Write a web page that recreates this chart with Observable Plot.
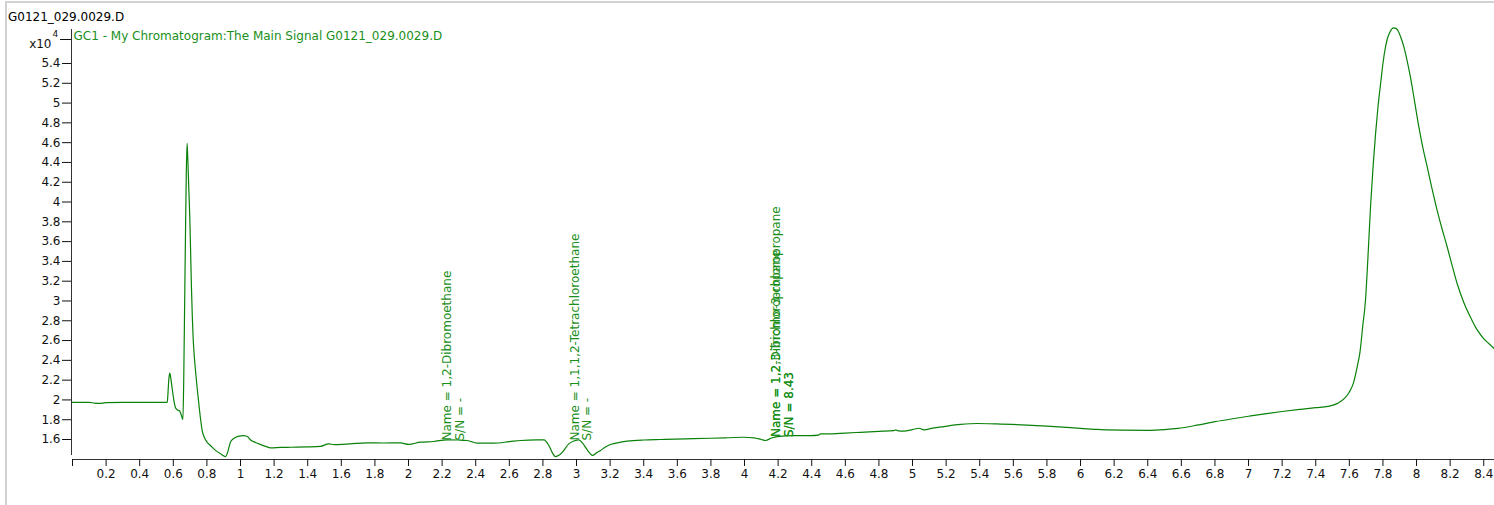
<!DOCTYPE html>
<html><head><meta charset="utf-8">
<script src="https://cdn.jsdelivr.net/npm/d3@7"></script>
<script src="https://cdn.jsdelivr.net/npm/@observablehq/plot@0.6"></script>
<style>
html,body{margin:0;padding:0;background:#fff;}
#wrap{position:relative;width:1494px;height:505px;overflow:hidden;font-family:"DejaVu Sans",sans-serif;}
#frame{position:absolute;left:5px;top:1px;width:1600px;height:600px;border-left:2px solid #d2d2d2;border-top:2px solid #d2d2d2;}
#title{position:absolute;left:8px;top:10px;font-size:12px;line-height:14px;color:#000;white-space:nowrap;}
#chart{position:absolute;left:0;top:0;}
</style></head><body>
<div id="wrap"><div id="frame"></div><div id="title">G0121_029.0029.D</div><div id="chart"></div></div>
<script>
// retention time (min)
const times = [0.00,0.10,0.13,0.16,0.20,0.30,0.45,0.564,0.568,0.573,0.579,0.585,0.593,0.603,0.613,0.623,0.637,0.647,0.657,0.662,0.667,0.672,0.677,0.682,0.686,0.692,0.698,0.703,0.708,0.713,0.718,0.725,0.732,0.742,0.752,0.762,0.772,0.785,0.800,0.821,0.851,0.881,0.911,0.925,0.940,0.960,0.985,1.020,1.045,1.060,1.090,1.119,1.150,1.179,1.238,1.30,1.40,1.476,1.524,1.56,1.65,1.754,1.85,1.952,2.00,2.071,2.149,2.23,2.30,2.35,2.409,2.508,2.60,2.667,2.760,2.806,2.835,2.855,2.875,2.895,2.915,2.954,2.985,3.014,3.035,3.054,3.075,3.096,3.115,3.143,3.172,3.202,3.262,3.302,3.40,3.50,3.65,3.798,3.90,3.996,4.056,4.10,4.125,4.160,4.195,4.294,4.393,4.44,4.452,4.49,4.60,4.69,4.80,4.889,4.90,4.91,4.948,5.00,5.038,5.068,5.12,5.187,5.286,5.385,5.50,5.65,5.80,5.893,6.00,6.095,6.25,6.399,6.50,6.58,6.703,6.80,6.905,7.00,7.107,7.20,7.31,7.40,7.472,7.53,7.574,7.60,7.624,7.645,7.663,7.68,7.696,7.711,7.726,7.741,7.756,7.771,7.786,7.80,7.815,7.828,7.841,7.853,7.865,7.877,7.889,7.905,7.925,7.945,7.964,7.99,8.014,8.04,8.064,8.09,8.123,8.15,8.183,8.21,8.242,8.28,8.321,8.36,8.401,8.43,8.464];
// signal (x10^4)
const signal = [1.975,1.975,1.968,1.965,1.972,1.975,1.975,1.975,2.06,2.20,2.27,2.22,2.12,2.00,1.92,1.90,1.89,1.85,1.80,2.20,2.90,3.60,4.25,4.594,4.45,4.15,3.85,3.50,3.14,2.85,2.63,2.44,2.30,2.12,1.96,1.81,1.69,1.62,1.575,1.54,1.49,1.455,1.428,1.48,1.573,1.61,1.632,1.64,1.625,1.595,1.57,1.55,1.53,1.516,1.52,1.522,1.525,1.53,1.556,1.548,1.555,1.567,1.565,1.567,1.55,1.573,1.58,1.597,1.595,1.59,1.563,1.563,1.578,1.59,1.597,1.597,1.54,1.47,1.428,1.44,1.47,1.556,1.585,1.597,1.565,1.52,1.47,1.44,1.46,1.489,1.525,1.55,1.573,1.583,1.595,1.60,1.607,1.613,1.618,1.623,1.617,1.60,1.59,1.615,1.63,1.64,1.64,1.645,1.657,1.657,1.665,1.673,1.682,1.69,1.698,1.69,1.684,1.70,1.714,1.698,1.715,1.731,1.752,1.762,1.758,1.748,1.735,1.725,1.712,1.702,1.695,1.693,1.70,1.712,1.748,1.78,1.81,1.835,1.862,1.883,1.905,1.922,1.935,1.965,2.02,2.08,2.17,2.32,2.48,2.75,3.005,3.45,3.948,4.35,4.689,4.97,5.195,5.40,5.565,5.66,5.716,5.75,5.76,5.755,5.733,5.67,5.565,5.42,5.26,5.00,4.756,4.53,4.352,4.15,3.914,3.74,3.543,3.37,3.174,2.99,2.836,2.71,2.618,2.57,2.517];

// peak annotations
const peakNames = ["1,2-Dibromoethane","1,1,1,2-Tetrachloroethane","1,2,3-Trichloropropane","1,2-Dibromo-3-chloropropane"];
const peakTimes = [2.268, 3.027, 4.226, 4.226];
const peakLevels = [1.59, 1.59, 1.625, 1.625];
const peakSN = ["-", "-", "8.43", "8.43"];

// axis ticks
const xTicks = [0,0.2,0.4,0.6,0.8,1,1.2,1.4,1.6,1.8,2,2.2,2.4,2.6,2.8,3,3.2,3.4,3.6,3.8,4,4.2,4.4,4.6,4.8,5,5.2,5.4,5.6,5.8,6,6.2,6.4,6.6,6.8,7,7.2,7.4,7.6,7.8,8,8.2,8.4];
const yTicks = [1.6,1.8,2,2.2,2.4,2.6,2.8,3,3.2,3.4,3.6,3.8,4,4.2,4.4,4.6,4.8,5,5.2,5.4];
const yExponentTick = 5.6426;

const header = "GC1 - My Chromatogram:The Main Signal G0121_029.0029.D";

const xMin = 0, xMax = 8.464;
const yMin = 1.398, yMax = 5.7436;
const green = "#1a8f1a";

const data = times.map((t, i) => ({t, v: signal[i]}));
const labels = peakNames.map((n, i) => ({t: peakTimes[i], v: peakLevels[i], text: `Name = ${n}\nS/N = ${peakSN[i]}`}));

const chart = Plot.plot({
  width: 1494,
  height: 505,
  marginLeft: 72,
  marginRight: 0,
  marginTop: 29,
  marginBottom: 46,
  style: {fontFamily: "DejaVu Sans", fontSize: "12px", color: "#111", background: "transparent", overflow: "visible"},
  x: {domain: [xMin, xMax]},
  y: {domain: [yMin, yMax]},
  marks: [
    Plot.ruleX([xMin], {y1: 1.438, y2: yMax, dx: -1, stroke: "#333"}),
    Plot.ruleY([yMin], {x1: xMin, x2: xMax, stroke: "#333"}),
    Plot.axisY({ticks: yTicks, tickSize: 9, tickPadding: 2, dx: -1, tickFormat: d => String(d), label: null, fill: "#111"}),
    Plot.axisY({ticks: [yExponentTick], tickSize: 11, dx: -1, tickFormat: () => "", label: null}),
    Plot.axisX({ticks: xTicks, tickSize: 7, tickPadding: 3, tickFormat: d => d === 0 ? "" : String(d), label: null, fill: "#111"}),
    Plot.text(["x10"], {x: xMin, y: yExponentTick, text: d => d, textAnchor: "end", dx: -21, dy: 4.8, fill: "#111"}),
    Plot.text(["4"], {x: xMin, y: yExponentTick, text: d => d, textAnchor: "start", dx: -20, dy: -5.3, fontSize: 9, fill: "#111"}),
    Plot.text([header], {x: xMin, y: yExponentTick, text: d => d, textAnchor: "start", dx: 1, dy: -3.5, fill: green}),
    Plot.line(data, {x: "t", y: "v", stroke: "#0a820a", strokeWidth: 1.2, curve: "monotone-x"}),
    Plot.text(labels, {x: "t", y: "v", text: "text", rotate: -90, textAnchor: "start", lineAnchor: "middle", lineHeight: 1.05, fill: green})
  ]
});
document.getElementById("chart").appendChild(chart);
</script>
</body></html>
